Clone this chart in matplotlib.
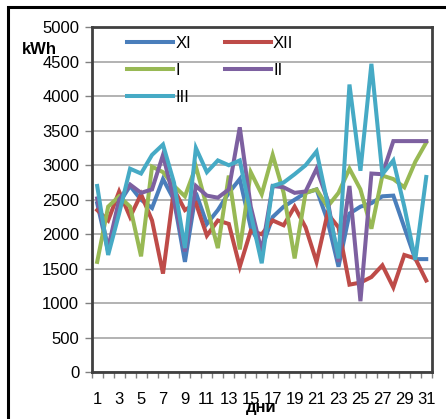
import matplotlib
matplotlib.use("Agg")
import matplotlib.pyplot as plt
from matplotlib.patches import Rectangle
import numpy as np

days = list(range(1, 32))
xi  = [2450, 1750, 2450, 2700, 2500, 2380, 2800, 2500, 1600, 2600, 2150, 2350, 2600, 2800, 2100, 1800,
       2250, 2400, 2500, 2600, 2650, 2200, 1530, 2300, 2400, 2450, 2550, 2560, 2100, 1640, 1640]
xii = [2350, 2200, 2620, 2250, 2580, 2200, 1430, 2650, 2350, 2450, 1980, 2200, 2150, 1530, 2050, 2000,
       2200, 2130, 2400, 2100, 1600, 2300, 2100, 1270, 1300, 1380, 1550, 1230, 1700, 1650, 1330]
s_i = [1600, 2400, 2550, 2400, 1680, 2980, 2900, 2700, 2550, 2980, 2400, 1800, 2850, 1780, 2900, 2580,
       3150, 2600, 1650, 2600, 2650, 2400, 2600, 2950, 2650, 2080, 2850, 2800, 2680, 3050, 3330]
s_ii = [2520, 1800, 2500, 2720, 2600, 2650, 3150, 2500, 1750, 2700, 2560, 2530, 2650, 3550, 2400, 1750,
        2700, 2680, 2600, 2620, 2950, 2500, 1600, 2700, 1030, 2880, 2870, 3350, 3350, 3350, 3350]
s_iii = [2700, 1700, 2300, 2950, 2880, 3150, 3300, 2750, 1800, 3250, 2900, 3070, 3000, 3070, 2300, 1580,
         2700, 2750, 2870, 3000, 3200, 2450, 1650, 4170, 2920, 4470, 2870, 3070, 2400, 1630, 2830]

series = [("XI", xi, "#4A7EBB"), ("XII", xii, "#BE4B48"), ("I", s_i, "#98B954"),
          ("II", s_ii, "#7D60A0"), ("III", s_iii, "#46AAC5")]

plt.rcParams['font.family'] = ['Liberation Sans', 'DejaVu Sans']

fig = plt.figure(figsize=(4.46, 4.19), dpi=100)
ax = fig.add_axes([0.2056, 0.1115, 0.7624, 0.8235])

handles = {}
for name, vals, col in series:
    h, = ax.plot(days, vals, color=col, lw=2.9, solid_joinstyle='miter', label=name, zorder=3)
    handles[name] = h

ax.set_xlim(0.5, 31.5)
ax.set_ylim(0, 5000)
ax.set_yticks(np.arange(0, 5001, 500))
ax.set_xticks(days[::2])
ax.set_xticklabels([str(d) for d in days[::2]])
ax.set_xticks(np.arange(0.5, 31.6, 1), minor=True)
ax.tick_params(axis='x', which='major', length=0, pad=14, labelsize=12)
ax.tick_params(axis='x', which='minor', length=4, width=1, color='#808080', direction='out')
ax.tick_params(axis='y', which='major', length=5, width=1, color='#808080', labelsize=12, pad=4)
ax.grid(axis='y', color='#A6A6A6', lw=1.2, zorder=0)
for s in ax.spines.values():
    s.set_color('#404040')
    s.set_linewidth(2)

order = ["XI", "I", "III", "XII", "II"]
leg = ax.legend([handles[n] for n in order], order, ncol=2, frameon=False,
                loc='upper left', bbox_to_anchor=(0.085, 0.995), fontsize=12,
                handlelength=2.75, handletextpad=0.15, labelspacing=0.72, columnspacing=2.0,
                borderaxespad=0)

fig.text(22/446, 1 - 49/419, "kWh", fontsize=12, fontweight='bold', va='center', ha='left')
fig.text(261/446, 1 - 407/419, "дни", fontsize=12, fontweight='bold', va='center', ha='center')

fig.patches.append(Rectangle((8/446, -0.05), 1.2, (1 - 7/419) + 0.05, transform=fig.transFigure,
                             fill=False, edgecolor='black', lw=2.2, clip_on=False))

fig.savefig("out.png", dpi=100)
